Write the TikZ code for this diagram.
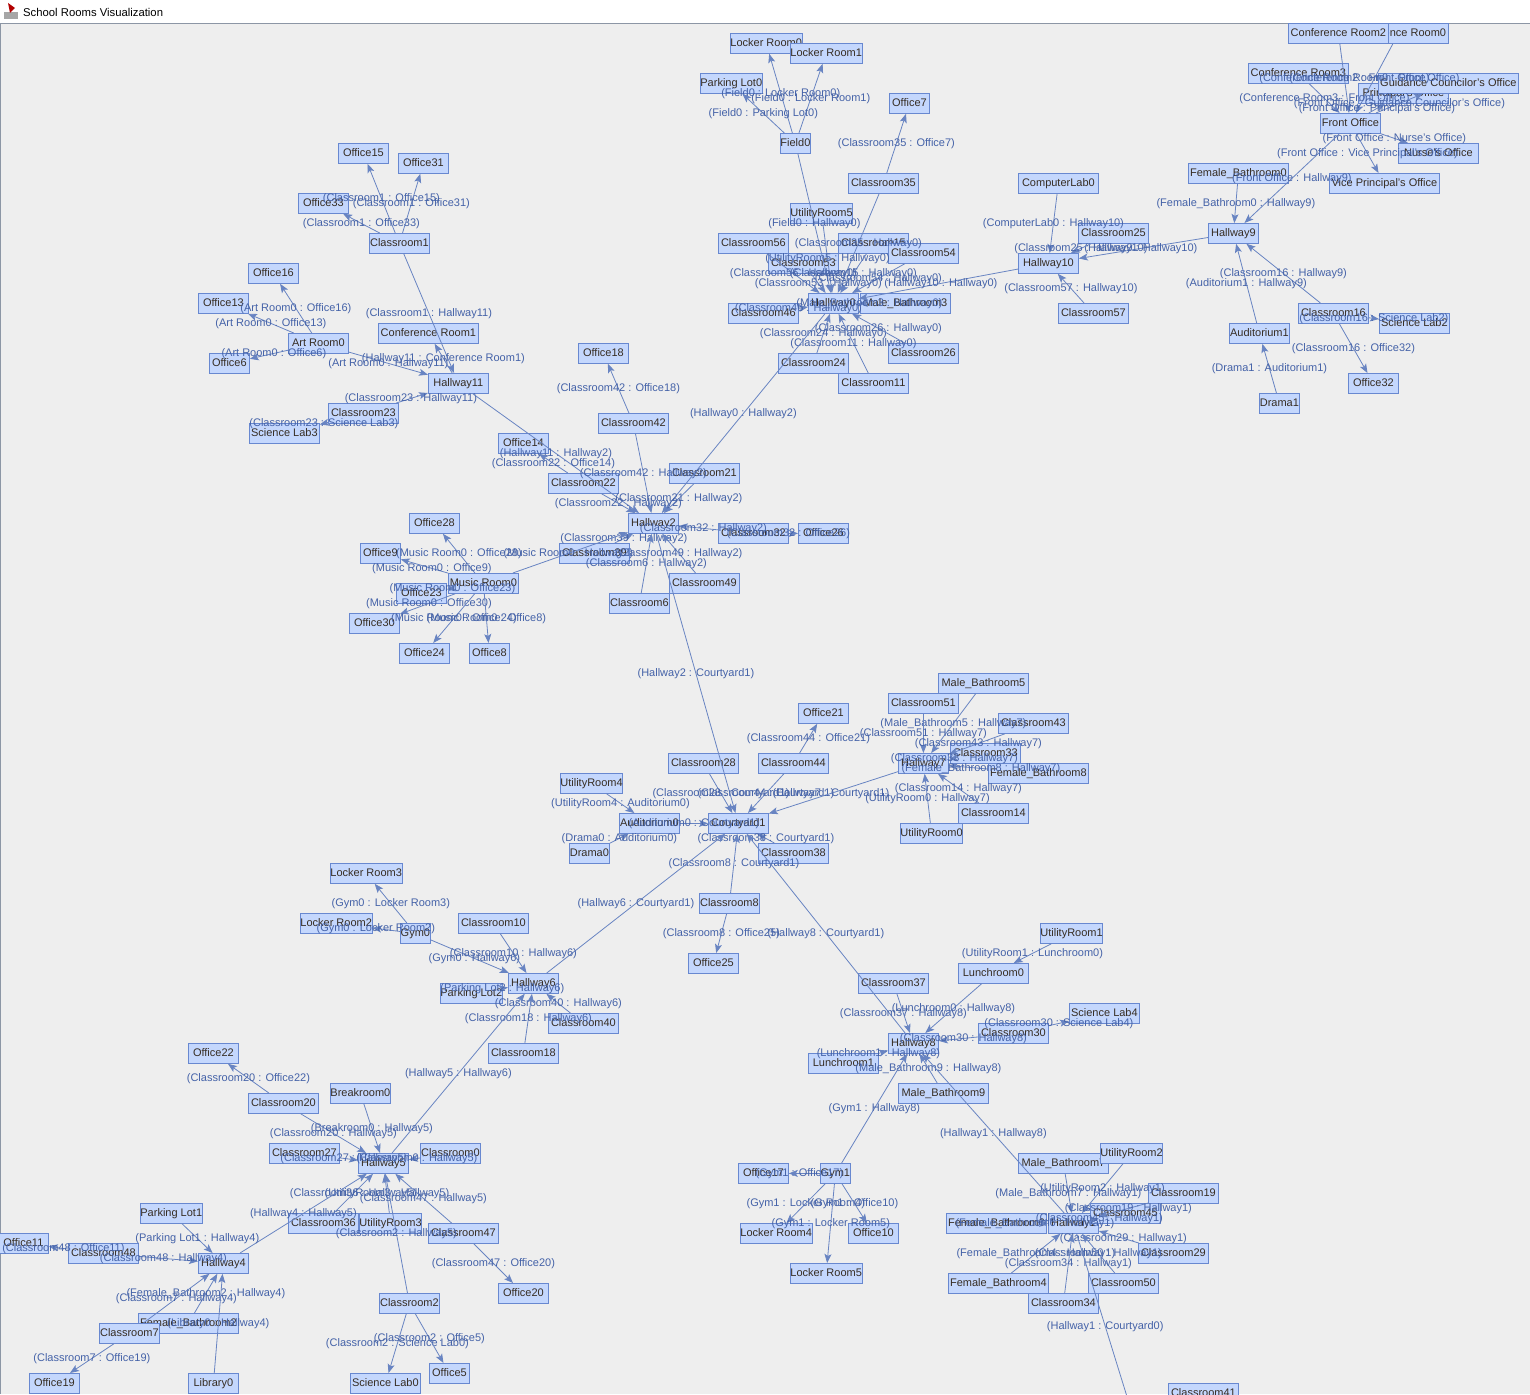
\documentclass[tikz,border=0pt]{standalone}
\usepackage{fontspec}
\setmainfont{Liberation Sans}
\usetikzlibrary{arrows.meta,calc}

\definecolor{canvas}{RGB}{238,238,238}
\definecolor{roomfill}{RGB}{196,215,253}
\definecolor{roomline}{RGB}{104,136,208}
\definecolor{roomtext}{RGB}{55,45,35}
\definecolor{linkcol}{RGB}{104,132,194}
\definecolor{lblcol}{RGB}{68,98,168}
\definecolor{framecol}{RGB}{140,150,165}

\begin{document}
\begin{tikzpicture}[x=1pt,y=-1pt,
		room/.style={draw=roomline,fill=roomfill,text=roomtext,anchor=north west,minimum height=20pt,inner xsep=0pt,inner ysep=0pt,text height=8pt,text depth=2pt,font=\fontsize{11}{13}\selectfont,line width=0.8pt},
		link/.style={draw=linkcol,line width=0.8pt,-{Stealth[length=9pt,width=7pt,inset=2pt]}},
		lbl/.style={text=lblcol,inner sep=0pt,text height=8pt,text depth=2pt,font=\fontsize{11}{13}\selectfont}]
		\useasboundingbox (0,0) rectangle (1530,1394);
		\clip (0,0) rectangle (1530,1394);

		% window
		\fill[white] (0,0) rectangle (1530,23);
		\fill[canvas] (0,23) rectangle (1530,1394);
		\draw[framecol] (0,23.5) -- (1530,23.5);
		\draw[framecol] (0.5,23.5) -- (0.5,1394);
		\fill[gray!70] (4,12) rectangle (18,19);
		\fill[red!70!black] (8,3) -- (15,8) -- (10,13) -- cycle;
		\node[anchor=west,inner sep=0pt,font=\fontsize{11.3}{13}\selectfont] (title) at (23,12) {School Rooms Visualization};

		% rooms, top left
		\node[room,minimum width=50]	(Office15)	at (338,143)	{Office15};
		\node[room,minimum width=50]	(Office31)	at (398,153)	{Office31};
		\node[room,minimum width=50]	(Office33)	at (298,193)	{Office33};
		\node[room,minimum width=60]	(Classroom1)	at (369,233)	{Classroom1};
		\node[room,minimum width=50]	(Office16)	at (248,263)	{Office16};
		\node[room,minimum width=50]	(Office13)	at (198,293)	{Office13};
		\node[room,minimum width=60]	(ArtRoom0)	at (288,333)	{Art Room0};
		\node[room,minimum width=40]	(Office6)	at (209,353)	{Office6};
		\node[room,minimum width=100]	(ConfRoom1)	at (378,323)	{Conference Room1};
		\node[room,minimum width=60]	(Hallway11)	at (428,373)	{Hallway11};
		\node[room,minimum width=70]	(Classroom23)	at (328,403)	{Classroom23};
		\node[room,minimum width=70]	(ScienceLab3)	at (249,423)	{Science Lab3};

		% rooms, top middle
		\node[room,minimum width=70]	(LockerRoom0)	at (730,33)	{Locker Room0};
		\node[room,minimum width=70]	(LockerRoom1)	at (790,43)	{Locker Room1};
		\node[room,minimum width=60]	(ParkingLot0)	at (700,73)	{Parking Lot0};
		\node[room,minimum width=30]	(Field0)	at (780,133)	{Field0};
		\node[room,minimum width=40]	(Office7)	at (889,93)	{Office7};
		\node[room,minimum width=70]	(Classroom35)	at (848,173)	{Classroom35};
		\node[room,minimum width=60]	(UtilityRoom5)	at (790,203)	{UtilityRoom5};
		\node[room,minimum width=70]	(Classroom56)	at (718,233)	{Classroom56};
		\node[room,minimum width=70]	(Classroom15)	at (838,233)	{Classroom15};
		\node[room,minimum width=70]	(Classroom54)	at (888,243)	{Classroom54};
		\node[room,minimum width=70]	(Classroom53)	at (768,253)	{Classroom53};
		\node[room,minimum width=50]	(Hallway0)	at (808,293)	{Hallway0};
		\node[room,minimum width=90]	(MaleBath3)	at (860,293)	{Male\_Bathroom3};
		\node[room,minimum width=70]	(Classroom46)	at (728,303)	{Classroom46};
		\node[room,minimum width=70]	(Classroom24)	at (778,353)	{Classroom24};
		\node[room,minimum width=70]	(Classroom26)	at (888,343)	{Classroom26};
		\node[room,minimum width=70]	(Classroom11)	at (838,373)	{Classroom11};

		% rooms, top right
		\node[room,minimum width=100]	(ConfRoom0)	at (1348,23)	{Conference Room0};
		\node[room,minimum width=100]	(ConfRoom2)	at (1288,23)	{Conference Room2};
		\node[room,minimum width=100]	(ConfRoom3)	at (1248,63)	{Conference Room3};
		\node[room,minimum width=90]	(PrincipalOff)	at (1358,83)	{Principal's Office};
		\node[room,minimum width=140]	(GuidanceOff)	at (1378,73)	{Guidance Councilor's Office};
		\node[room,minimum width=60]	(FrontOffice)	at (1320,113)	{Front Office};
		\node[room,minimum width=80]	(NurseOff)	at (1398,143)	{Nurse's Office};
		\node[room,minimum width=110]	(VicePrincipalOff)	at (1329,173)	{Vice Principal's Office};
		\node[room,minimum width=100]	(FemaleBath0)	at (1188,163)	{Female\_Bathroom0};
		\node[room,minimum width=50]	(Hallway9)	at (1208,223)	{Hallway9};
		\node[room,minimum width=80]	(ComputerLab0)	at (1018,173)	{ComputerLab0};
		\node[room,minimum width=70]	(Classroom25)	at (1078,223)	{Classroom25};
		\node[room,minimum width=60]	(Hallway10)	at (1018,253)	{Hallway10};
		\node[room,minimum width=70]	(Classroom57)	at (1058,303)	{Classroom57};
		\node[room,minimum width=70]	(Classroom16)	at (1298,303)	{Classroom16};
		\node[room,minimum width=70]	(ScienceLab2)	at (1379,313)	{Science Lab2};
		\node[room,minimum width=60]	(Auditorium1)	at (1229,323)	{Auditorium1};
		\node[room,minimum width=50]	(Office32)	at (1348,373)	{Office32};
		\node[room,minimum width=40]	(Drama1)	at (1259,393)	{Drama1};

		% rooms, round Hallway2
		\node[room,minimum width=50]	(Office18)	at (578,343)	{Office18};
		\node[room,minimum width=70]	(Classroom42)	at (598,413)	{Classroom42};
		\node[room,minimum width=50]	(Office14)	at (498,433)	{Office14};
		\node[room,minimum width=70]	(Classroom21)	at (669,463)	{Classroom21};
		\node[room,minimum width=70]	(Classroom22)	at (548,473)	{Classroom22};
		\node[room,minimum width=50]	(Hallway2)	at (628,513)	{Hallway2};
		\node[room,minimum width=70]	(Classroom32)	at (718,523)	{Classroom32};
		\node[room,minimum width=50]	(Office26)	at (798,523)	{Office26};
		\node[room,minimum width=50]	(Office28)	at (409,513)	{Office28};
		\node[room,minimum width=40]	(Office9)	at (360,543)	{Office9};
		\node[room,minimum width=70]	(Classroom39)	at (559,543)	{Classroom39};
		\node[room,minimum width=50]	(Office23)	at (396,583)	{Office23};
		\node[room,minimum width=70]	(MusicRoom0)	at (448,573)	{Music Room0};
		\node[room,minimum width=50]	(Office30)	at (349,613)	{Office30};
		\node[room,minimum width=50]	(Office24)	at (399,643)	{Office24};
		\node[room,minimum width=40]	(Office8)	at (469,643)	{Office8};
		\node[room,minimum width=70]	(Classroom49)	at (669,573)	{Classroom49};
		\node[room,minimum width=60]	(Classroom6)	at (609,593)	{Classroom6};

		% rooms, round Courtyard1
		\node[room,minimum width=90]	(MaleBath5)	at (938,673)	{Male\_Bathroom5};
		\node[room,minimum width=70]	(Classroom51)	at (888,693)	{Classroom51};
		\node[room,minimum width=70]	(Classroom43)	at (998,713)	{Classroom43};
		\node[room,minimum width=50]	(Office21)	at (798,703)	{Office21};
		\node[room,minimum width=70]	(Classroom28)	at (668,753)	{Classroom28};
		\node[room,minimum width=70]	(Classroom44)	at (758,753)	{Classroom44};
		\node[room,minimum width=50]	(Hallway7)	at (898,753)	{Hallway7};
		\node[room,minimum width=70]	(Classroom33)	at (950,743)	{Classroom33};
		\node[room,minimum width=100]	(FemaleBath8)	at (988,763)	{Female\_Bathroom8};
		\node[room,minimum width=60]	(UtilityRoom4)	at (560,773)	{UtilityRoom4};
		\node[room,minimum width=60]	(Auditorium0)	at (619,813)	{Auditorium0};
		\node[room,minimum width=60]	(Courtyard1)	at (708,813)	{Courtyard1};
		\node[room,minimum width=40]	(Drama0)	at (569,843)	{Drama0};
		\node[room,minimum width=70]	(Classroom38)	at (758,843)	{Classroom38};
		\node[room,minimum width=60]	(UtilityRoom0)	at (900,823)	{UtilityRoom0};
		\node[room,minimum width=70]	(Classroom14)	at (958,803)	{Classroom14};
		\node[room,minimum width=60]	(Classroom8)	at (699,893)	{Classroom8};
		\node[room,minimum width=50]	(Office25)	at (688,953)	{Office25};
		\node[room,minimum width=70]	(Classroom37)	at (858,973)	{Classroom37};
		\node[room,minimum width=60]	(UtilityRoom1)	at (1040,923)	{UtilityRoom1};
		\node[room,minimum width=70]	(Lunchroom0)	at (958,963)	{Lunchroom0};

		% rooms, bottom left
		\node[room,minimum width=70]	(LockerRoom3)	at (330,863)	{Locker Room3};
		\node[room,minimum width=70]	(LockerRoom2)	at (300,913)	{Locker Room2};
		\node[room,minimum width=30]	(Gym0)	at (400,923)	{Gym0};
		\node[room,minimum width=70]	(Classroom10)	at (458,913)	{Classroom10};
		\node[room,minimum width=50]	(Hallway6)	at (508,973)	{Hallway6};
		\node[room,minimum width=60]	(ParkingLot2)	at (440,983)	{Parking Lot2};
		\node[room,minimum width=70]	(Classroom40)	at (548,1013)	{Classroom40};
		\node[room,minimum width=70]	(Classroom18)	at (488,1043)	{Classroom18};
		\node[room,minimum width=50]	(Office22)	at (188,1043)	{Office22};
		\node[room,minimum width=60]	(Breakroom0)	at (330,1083)	{Breakroom0};
		\node[room,minimum width=70]	(Classroom20)	at (248,1093)	{Classroom20};
		\node[room,minimum width=70]	(Classroom27)	at (269,1143)	{Classroom27};
		\node[room,minimum width=50]	(Hallway5)	at (358,1153)	{Hallway5};
		\node[room,minimum width=60]	(Classroom0)	at (420,1143)	{Classroom0};
		\node[room,minimum width=60]	(ParkingLot1)	at (140,1203)	{Parking Lot1};
		\node[room,minimum width=70]	(Classroom36)	at (288,1213)	{Classroom36};
		\node[room,minimum width=60]	(UtilityRoom3)	at (359,1213)	{UtilityRoom3};
		\node[room,minimum width=70]	(Classroom47)	at (428,1223)	{Classroom47};
		\node[room,minimum width=50]	(Office11)	at (-2,1233)	{Office11};
		\node[room,minimum width=70]	(Classroom48)	at (68,1243)	{Classroom48};
		\node[room,minimum width=50]	(Hallway4)	at (198,1253)	{Hallway4};
		\node[room,minimum width=50]	(Office20)	at (498,1283)	{Office20};
		\node[room,minimum width=60]	(Classroom2)	at (379,1293)	{Classroom2};
		\node[room,minimum width=100]	(FemaleBath2)	at (138,1313)	{Female\_Bathroom2};
		\node[room,minimum width=60]	(Classroom7)	at (99,1323)	{Classroom7};
		\node[room,minimum width=40]	(Office5)	at (429,1363)	{Office5};
		\node[room,minimum width=50]	(Office19)	at (29,1373)	{Office19};
		\node[room,minimum width=50]	(Library0)	at (188,1373)	{Library0};
		\node[room,minimum width=70]	(ScienceLab0)	at (350,1373)	{Science Lab0};

		% rooms, bottom right
		\node[room,minimum width=70]	(ScienceLab4)	at (1069,1003)	{Science Lab4};
		\node[room,minimum width=70]	(Classroom30)	at (978,1023)	{Classroom30};
		\node[room,minimum width=50]	(Hallway8)	at (888,1033)	{Hallway8};
		\node[room,minimum width=70]	(Lunchroom1)	at (808,1053)	{Lunchroom1};
		\node[room,minimum width=90]	(MaleBath9)	at (898,1083)	{Male\_Bathroom9};
		\node[room,minimum width=50]	(Office17)	at (738,1163)	{Office17};
		\node[room,minimum width=30]	(Gym1)	at (820,1163)	{Gym1};
		\node[room,minimum width=70]	(LockerRoom4)	at (740,1223)	{Locker Room4};
		\node[room,minimum width=50]	(Office10)	at (848,1223)	{Office10};
		\node[room,minimum width=70]	(LockerRoom5)	at (790,1263)	{Locker Room5};
		\node[room,minimum width=90]	(MaleBath7)	at (1018,1153)	{Male\_Bathroom7};
		\node[room,minimum width=60]	(UtilityRoom2)	at (1100,1143)	{UtilityRoom2};
		\node[room,minimum width=70]	(Classroom19)	at (1148,1183)	{Classroom19};
		\node[room,minimum width=100]	(FemaleBath6)	at (946,1213)	{Female\_Bathroom6};
		\node[room,minimum width=50]	(Hallway1)	at (1048,1213)	{Hallway1};
		\node[room,minimum width=70]	(Classroom45)	at (1090,1203)	{Classroom45};
		\node[room,minimum width=70]	(Classroom29)	at (1138,1243)	{Classroom29};
		\node[room,minimum width=100]	(FemaleBath4)	at (948,1273)	{Female\_Bathroom4};
		\node[room,minimum width=70]	(Classroom50)	at (1088,1273)	{Classroom50};
		\node[room,minimum width=70]	(Classroom34)	at (1028,1293)	{Classroom34};
		\node[room,minimum width=70]	(Classroom41)	at (1168,1383)	{Classroom41};
		\coordinate (Courtyard0) at (1137,1429);

		% doors
		\draw[link] (Classroom1) -- (Office15);	\node[lbl] (e1) at ($(Classroom1)!.5!(Office15)$) {(Classroom1 : Office15)};
		\draw[link] (Classroom1) -- (Office31);	\node[lbl] (e2) at ($(Classroom1)!.5!(Office31)$) {(Classroom1 : Office31)};
		\draw[link] (Classroom1) -- (Office33);	\node[lbl] (e3) at ($(Classroom1)!.5!(Office33)$) {(Classroom1 : Office33)};
		\draw[link] (Classroom1) -- (Hallway11);	\node[lbl] (e4) at ($(Classroom1)!.5!(Hallway11)$) {(Classroom1 : Hallway11)};
		\draw[link] (ArtRoom0) -- (Office16);	\node[lbl] (e5) at ($(ArtRoom0)!.5!(Office16)$) {(Art Room0 : Office16)};
		\draw[link] (ArtRoom0) -- (Office13);	\node[lbl] (e6) at ($(ArtRoom0)!.5!(Office13)$) {(Art Room0 : Office13)};
		\draw[link] (ArtRoom0) -- (Office6);	\node[lbl] (e7) at ($(ArtRoom0)!.5!(Office6)$) {(Art Room0 : Office6)};
		\draw[link] (ArtRoom0) -- (Hallway11);	\node[lbl] (e8) at ($(ArtRoom0)!.5!(Hallway11)$) {(Art Room0 : Hallway11)};
		\draw[link] (Hallway11) -- (ConfRoom1);	\node[lbl] (e9) at ($(Hallway11)!.5!(ConfRoom1)$) {(Hallway11 : Conference Room1)};
		\draw[link] (Classroom23) -- (Hallway11);	\node[lbl] (e10) at ($(Classroom23)!.5!(Hallway11)$) {(Classroom23 : Hallway11)};
		\draw[link] (Classroom23) -- (ScienceLab3);	\node[lbl] (e11) at ($(Classroom23)!.5!(ScienceLab3)$) {(Classroom23 : Science Lab3)};
		\draw[link] (Hallway11) -- (Hallway2);	\node[lbl] (e12) at ($(Hallway11)!.5!(Hallway2)$) {(Hallway11 : Hallway2)};
		\draw[link] (Field0) -- (LockerRoom0);	\node[lbl] (e13) at ($(Field0)!.5!(LockerRoom0)$) {(Field0 : Locker Room0)};
		\draw[link] (Field0) -- (LockerRoom1);	\node[lbl] (e14) at ($(Field0)!.5!(LockerRoom1)$) {(Field0 : Locker Room1)};
		\draw[link] (Field0) -- (ParkingLot0);	\node[lbl] (e15) at ($(Field0)!.5!(ParkingLot0)$) {(Field0 : Parking Lot0)};
		\draw[link] (Field0) -- (Hallway0);	\node[lbl] (e16) at ($(Field0)!.5!(Hallway0)$) {(Field0 : Hallway0)};
		\draw[link] (Classroom35) -- (Office7);	\node[lbl] (e17) at ($(Classroom35)!.5!(Office7)$) {(Classroom35 : Office7)};
		\draw[link] (Classroom35) -- (Hallway0);	\node[lbl] (e18) at ($(Classroom35)!.5!(Hallway0)$) {(Classroom35 : Hallway0)};
		\draw[link] (UtilityRoom5) -- (Hallway0);	\node[lbl] (e19) at ($(UtilityRoom5)!.5!(Hallway0)$) {(UtilityRoom5 : Hallway0)};
		\draw[link] (Classroom56) -- (Hallway0);	\node[lbl] (e20) at ($(Classroom56)!.5!(Hallway0)$) {(Classroom56 : Hallway0)};
		\draw[link] (Classroom15) -- (Hallway0);	\node[lbl] (e21) at ($(Classroom15)!.5!(Hallway0)$) {(Classroom15 : Hallway0)};
		\draw[link] (Classroom54) -- (Hallway0);	\node[lbl] (e22) at ($(Classroom54)!.5!(Hallway0)$) {(Classroom54 : Hallway0)};
		\draw[link] (Classroom53) -- (Hallway0);	\node[lbl] (e23) at ($(Classroom53)!.5!(Hallway0)$) {(Classroom53 : Hallway0)};
		\draw[link] (Hallway10) -- (Hallway0);	\node[lbl] (e24) at ($(Hallway10)!.5!(Hallway0)$) {(Hallway10 : Hallway0)};
		\draw[link] (MaleBath3) -- (Hallway0);	\node[lbl] (e25) at ($(MaleBath3)!.5!(Hallway0)$) {(Male\_Bathroom3 : Hallway0)};
		\draw[link] (Classroom46) -- (Hallway0);	\node[lbl] (e26) at ($(Classroom46)!.5!(Hallway0)$) {(Classroom46 : Hallway0)};
		\draw[link] (Classroom24) -- (Hallway0);	\node[lbl] (e27) at ($(Classroom24)!.5!(Hallway0)$) {(Classroom24 : Hallway0)};
		\draw[link] (Classroom26) -- (Hallway0);	\node[lbl] (e28) at ($(Classroom26)!.5!(Hallway0)$) {(Classroom26 : Hallway0)};
		\draw[link] (Classroom11) -- (Hallway0);	\node[lbl] (e29) at ($(Classroom11)!.5!(Hallway0)$) {(Classroom11 : Hallway0)};
		\draw[link] (Hallway0) -- (Hallway2);	\node[lbl] (e30) at ($(Hallway0)!.5!(Hallway2)$) {(Hallway0 : Hallway2)};
		\draw[link] (Classroom42) -- (Office18);	\node[lbl] (e31) at ($(Classroom42)!.5!(Office18)$) {(Classroom42 : Office18)};
		\draw[link] (Classroom42) -- (Hallway2);	\node[lbl] (e32) at ($(Classroom42)!.5!(Hallway2)$) {(Classroom42 : Hallway2)};
		\draw[link] (ConfRoom2) -- (FrontOffice);	\node[lbl] (e33) at ($(ConfRoom2)!.5!(FrontOffice)$) {(Conference Room2 : Front Office)};
		\draw[link] (ConfRoom0) -- (FrontOffice);	\node[lbl] (e34) at ($(ConfRoom0)!.5!(FrontOffice)$) {(Conference Room0 : Front Office)};
		\draw[link] (ConfRoom3) -- (FrontOffice);	\node[lbl] (e35) at ($(ConfRoom3)!.5!(FrontOffice)$) {(Conference Room3 : Front Office)};
		\draw[link] (FrontOffice) -- (GuidanceOff);	\node[lbl] (e36) at ($(FrontOffice)!.5!(GuidanceOff)$) {(Front Office : Guidance Councilor's Office)};
		\draw[link] (FrontOffice) -- (PrincipalOff);	\node[lbl] (e37) at ($(FrontOffice)!.5!(PrincipalOff)$) {(Front Office : Principal's Office)};
		\draw[link] (FrontOffice) -- (NurseOff);	\node[lbl] (e38) at ($(FrontOffice)!.5!(NurseOff)$) {(Front Office : Nurse's Office)};
		\draw[link] (FrontOffice) -- (VicePrincipalOff);	\node[lbl] (e39) at ($(FrontOffice)!.5!(VicePrincipalOff)$) {(Front Office : Vice Principal's Office)};
		\draw[link] (FrontOffice) -- (Hallway9);	\node[lbl] (e40) at ($(FrontOffice)!.5!(Hallway9)$) {(Front Office : Hallway9)};
		\draw[link] (FemaleBath0) -- (Hallway9);	\node[lbl] (e41) at ($(FemaleBath0)!.5!(Hallway9)$) {(Female\_Bathroom0 : Hallway9)};
		\draw[link] (Hallway9) -- (Hallway10);	\node[lbl] (e42) at ($(Hallway9)!.5!(Hallway10)$) {(Hallway9 : Hallway10)};
		\draw[link] (ComputerLab0) -- (Hallway10);	\node[lbl] (e43) at ($(ComputerLab0)!.5!(Hallway10)$) {(ComputerLab0 : Hallway10)};
		\draw[link] (Classroom25) -- (Hallway10);	\node[lbl] (e44) at ($(Classroom25)!.5!(Hallway10)$) {(Classroom25 : Hallway10)};
		\draw[link] (Classroom57) -- (Hallway10);	\node[lbl] (e45) at ($(Classroom57)!.5!(Hallway10)$) {(Classroom57 : Hallway10)};
		\draw[link] (Classroom16) -- (Hallway9);	\node[lbl] (e46) at ($(Classroom16)!.5!(Hallway9)$) {(Classroom16 : Hallway9)};
		\draw[link] (Auditorium1) -- (Hallway9);	\node[lbl] (e47) at ($(Auditorium1)!.5!(Hallway9)$) {(Auditorium1 : Hallway9)};
		\draw[link] (Classroom16) -- (ScienceLab2);	\node[lbl] (e48) at ($(Classroom16)!.5!(ScienceLab2)$) {(Classroom16 : Science Lab2)};
		\draw[link] (Classroom16) -- (Office32);	\node[lbl] (e49) at ($(Classroom16)!.5!(Office32)$) {(Classroom16 : Office32)};
		\draw[link] (Drama1) -- (Auditorium1);	\node[lbl] (e50) at ($(Drama1)!.5!(Auditorium1)$) {(Drama1 : Auditorium1)};
		\draw[link] (Classroom22) -- (Office14);	\node[lbl] (e51) at ($(Classroom22)!.5!(Office14)$) {(Classroom22 : Office14)};
		\draw[link] (Classroom21) -- (Hallway2);	\node[lbl] (e52) at ($(Classroom21)!.5!(Hallway2)$) {(Classroom21 : Hallway2)};
		\draw[link] (Classroom22) -- (Hallway2);	\node[lbl] (e53) at ($(Classroom22)!.5!(Hallway2)$) {(Classroom22 : Hallway2)};
		\draw[link] (Classroom32) -- (Hallway2);	\node[lbl] (e54) at ($(Classroom32)!.5!(Hallway2)$) {(Classroom32 : Hallway2)};
		\draw[link] (Classroom32) -- (Office26);	\node[lbl] (e55) at ($(Classroom32)!.5!(Office26)$) {(Classroom32 : Office26)};
		\draw[link] (Classroom39) -- (Hallway2);	\node[lbl] (e56) at ($(Classroom39)!.5!(Hallway2)$) {(Classroom39 : Hallway2)};
		\draw[link] (MusicRoom0) -- (Hallway2);	\node[lbl] (e57) at ($(MusicRoom0)!.5!(Hallway2)$) {(Music Room0 : Hallway2)};
		\draw[link] (Classroom49) -- (Hallway2);	\node[lbl] (e58) at ($(Classroom49)!.5!(Hallway2)$) {(Classroom49 : Hallway2)};
		\draw[link] (Classroom6) -- (Hallway2);	\node[lbl] (e59) at ($(Classroom6)!.5!(Hallway2)$) {(Classroom6 : Hallway2)};
		\draw[link] (Hallway2) -- (Courtyard1);	\node[lbl] (e60) at ($(Hallway2)!.5!(Courtyard1)$) {(Hallway2 : Courtyard1)};
		\draw[link] (MusicRoom0) -- (Office28);	\node[lbl] (e61) at ($(MusicRoom0)!.5!(Office28)$) {(Music Room0 : Office28)};
		\draw[link] (MusicRoom0) -- (Office9);	\node[lbl] (e62) at ($(MusicRoom0)!.5!(Office9)$) {(Music Room0 : Office9)};
		\draw[link] (MusicRoom0) -- (Office23);	\node[lbl] (e63) at ($(MusicRoom0)!.5!(Office23)$) {(Music Room0 : Office23)};
		\draw[link] (MusicRoom0) -- (Office30);	\node[lbl] (e64) at ($(MusicRoom0)!.5!(Office30)$) {(Music Room0 : Office30)};
		\draw[link] (MusicRoom0) -- (Office24);	\node[lbl] (e65) at ($(MusicRoom0)!.5!(Office24)$) {(Music Room0 : Office24)};
		\draw[link] (MusicRoom0) -- (Office8);	\node[lbl] (e66) at ($(MusicRoom0)!.5!(Office8)$) {(Music Room0 : Office8)};
		\draw[link] (Classroom44) -- (Office21);	\node[lbl] (e67) at ($(Classroom44)!.5!(Office21)$) {(Classroom44 : Office21)};
		\draw[link] (Classroom28) -- (Courtyard1);	\node[lbl] (e68) at ($(Classroom28)!.5!(Courtyard1)$) {(Classroom28 : Courtyard1)};
		\draw[link] (Classroom44) -- (Courtyard1);	\node[lbl] (e69) at ($(Classroom44)!.5!(Courtyard1)$) {(Classroom44 : Courtyard1)};
		\draw[link] (Hallway7) -- (Courtyard1);	\node[lbl] (e70) at ($(Hallway7)!.5!(Courtyard1)$) {(Hallway7 : Courtyard1)};
		\draw[link] (UtilityRoom4) -- (Auditorium0);	\node[lbl] (e71) at ($(UtilityRoom4)!.5!(Auditorium0)$) {(UtilityRoom4 : Auditorium0)};
		\draw[link] (Auditorium0) -- (Courtyard1);	\node[lbl] (e72) at ($(Auditorium0)!.5!(Courtyard1)$) {(Auditorium0 : Courtyard1)};
		\draw[link] (Drama0) -- (Auditorium0);	\node[lbl] (e73) at ($(Drama0)!.5!(Auditorium0)$) {(Drama0 : Auditorium0)};
		\draw[link] (Classroom38) -- (Courtyard1);	\node[lbl] (e74) at ($(Classroom38)!.5!(Courtyard1)$) {(Classroom38 : Courtyard1)};
		\draw[link] (Classroom8) -- (Courtyard1);	\node[lbl] (e75) at ($(Classroom8)!.5!(Courtyard1)$) {(Classroom8 : Courtyard1)};
		\draw[link] (Classroom8) -- (Office25);	\node[lbl] (e76) at ($(Classroom8)!.5!(Office25)$) {(Classroom8 : Office25)};
		\draw[link] (Hallway6) -- (Courtyard1);	\node[lbl] (e77) at ($(Hallway6)!.5!(Courtyard1)$) {(Hallway6 : Courtyard1)};
		\draw[link] (Hallway8) -- (Courtyard1);	\node[lbl] (e78) at ($(Hallway8)!.5!(Courtyard1)$) {(Hallway8 : Courtyard1)};
		\draw[link] (MaleBath5) -- (Hallway7);	\node[lbl] (e79) at ($(MaleBath5)!.5!(Hallway7)$) {(Male\_Bathroom5 : Hallway7)};
		\draw[link] (Classroom51) -- (Hallway7);	\node[lbl] (e80) at ($(Classroom51)!.5!(Hallway7)$) {(Classroom51 : Hallway7)};
		\draw[link] (Classroom43) -- (Hallway7);	\node[lbl] (e81) at ($(Classroom43)!.5!(Hallway7)$) {(Classroom43 : Hallway7)};
		\draw[link] (Classroom33) -- (Hallway7);	\node[lbl] (e82) at ($(Classroom33)!.5!(Hallway7)$) {(Classroom33 : Hallway7)};
		\draw[link] (FemaleBath8) -- (Hallway7);	\node[lbl] (e83) at ($(FemaleBath8)!.5!(Hallway7)$) {(Female\_Bathroom8 : Hallway7)};
		\draw[link] (Classroom14) -- (Hallway7);	\node[lbl] (e84) at ($(Classroom14)!.5!(Hallway7)$) {(Classroom14 : Hallway7)};
		\draw[link] (UtilityRoom0) -- (Hallway7);	\node[lbl] (e85) at ($(UtilityRoom0)!.5!(Hallway7)$) {(UtilityRoom0 : Hallway7)};
		\draw[link] (UtilityRoom1) -- (Lunchroom0);	\node[lbl] (e86) at ($(UtilityRoom1)!.5!(Lunchroom0)$) {(UtilityRoom1 : Lunchroom0)};
		\draw[link] (Gym0) -- (LockerRoom3);	\node[lbl] (e87) at ($(Gym0)!.5!(LockerRoom3)$) {(Gym0 : Locker Room3)};
		\draw[link] (Gym0) -- (LockerRoom2);	\node[lbl] (e88) at ($(Gym0)!.5!(LockerRoom2)$) {(Gym0 : Locker Room2)};
		\draw[link] (Gym0) -- (Hallway6);	\node[lbl] (e89) at ($(Gym0)!.5!(Hallway6)$) {(Gym0 : Hallway6)};
		\draw[link] (Classroom10) -- (Hallway6);	\node[lbl] (e90) at ($(Classroom10)!.5!(Hallway6)$) {(Classroom10 : Hallway6)};
		\draw[link] (ParkingLot2) -- (Hallway6);	\node[lbl] (e91) at ($(ParkingLot2)!.5!(Hallway6)$) {(Parking Lot2 : Hallway6)};
		\draw[link] (Classroom40) -- (Hallway6);	\node[lbl] (e92) at ($(Classroom40)!.5!(Hallway6)$) {(Classroom40 : Hallway6)};
		\draw[link] (Classroom18) -- (Hallway6);	\node[lbl] (e93) at ($(Classroom18)!.5!(Hallway6)$) {(Classroom18 : Hallway6)};
		\draw[link] (Hallway5) -- (Hallway6);	\node[lbl] (e94) at ($(Hallway5)!.5!(Hallway6)$) {(Hallway5 : Hallway6)};
		\draw[link] (Classroom20) -- (Office22);	\node[lbl] (e95) at ($(Classroom20)!.5!(Office22)$) {(Classroom20 : Office22)};
		\draw[link] (Classroom20) -- (Hallway5);	\node[lbl] (e96) at ($(Classroom20)!.5!(Hallway5)$) {(Classroom20 : Hallway5)};
		\draw[link] (Breakroom0) -- (Hallway5);	\node[lbl] (e97) at ($(Breakroom0)!.5!(Hallway5)$) {(Breakroom0 : Hallway5)};
		\draw[link] (Classroom27) -- (Hallway5);	\node[lbl] (e98) at ($(Classroom27)!.5!(Hallway5)$) {(Classroom27 : Hallway5)};
		\draw[link] (Classroom0) -- (Hallway5);	\node[lbl] (e99) at ($(Classroom0)!.5!(Hallway5)$) {(Classroom0 : Hallway5)};
		\draw[link] (Classroom36) -- (Hallway5);	\node[lbl] (e100) at ($(Classroom36)!.5!(Hallway5)$) {(Classroom36 : Hallway5)};
		\draw[link] (UtilityRoom3) -- (Hallway5);	\node[lbl] (e101) at ($(UtilityRoom3)!.5!(Hallway5)$) {(UtilityRoom3 : Hallway5)};
		\draw[link] (Classroom47) -- (Hallway5);	\node[lbl] (e102) at ($(Classroom47)!.5!(Hallway5)$) {(Classroom47 : Hallway5)};
		\draw[link] (Classroom2) -- (Hallway5);	\node[lbl] (e103) at ($(Classroom2)!.5!(Hallway5)$) {(Classroom2 : Hallway5)};
		\draw[link] (Hallway4) -- (Hallway5);	\node[lbl] (e104) at ($(Hallway4)!.5!(Hallway5)$) {(Hallway4 : Hallway5)};
		\draw[link] (Classroom47) -- (Office20);	\node[lbl] (e105) at ($(Classroom47)!.5!(Office20)$) {(Classroom47 : Office20)};
		\draw[link] (ParkingLot1) -- (Hallway4);	\node[lbl] (e106) at ($(ParkingLot1)!.5!(Hallway4)$) {(Parking Lot1 : Hallway4)};
		\draw[link] (Classroom48) -- (Office11);	\node[lbl] (e107) at ($(Classroom48)!.5!(Office11)$) {(Classroom48 : Office11)};
		\draw[link] (Classroom48) -- (Hallway4);	\node[lbl] (e108) at ($(Classroom48)!.5!(Hallway4)$) {(Classroom48 : Hallway4)};
		\draw[link] (FemaleBath2) -- (Hallway4);	\node[lbl] (e109) at ($(FemaleBath2)!.5!(Hallway4)$) {(Female\_Bathroom2 : Hallway4)};
		\draw[link] (Classroom7) -- (Hallway4);	\node[lbl] (e110) at ($(Classroom7)!.5!(Hallway4)$) {(Classroom7 : Hallway4)};
		\draw[link] (Library0) -- (Hallway4);	\node[lbl] (e111) at ($(Library0)!.5!(Hallway4)$) {(Library0 : Hallway4)};
		\draw[link] (Classroom7) -- (Office19);	\node[lbl] (e112) at ($(Classroom7)!.5!(Office19)$) {(Classroom7 : Office19)};
		\draw[link] (Classroom2) -- (ScienceLab0);	\node[lbl] (e113) at ($(Classroom2)!.5!(ScienceLab0)$) {(Classroom2 : Science Lab0)};
		\draw[link] (Classroom2) -- (Office5);	\node[lbl] (e114) at ($(Classroom2)!.5!(Office5)$) {(Classroom2 : Office5)};
		\draw[link] (Classroom37) -- (Hallway8);	\node[lbl] (e115) at ($(Classroom37)!.5!(Hallway8)$) {(Classroom37 : Hallway8)};
		\draw[link] (Lunchroom0) -- (Hallway8);	\node[lbl] (e116) at ($(Lunchroom0)!.5!(Hallway8)$) {(Lunchroom0 : Hallway8)};
		\draw[link] (Classroom30) -- (Hallway8);	\node[lbl] (e117) at ($(Classroom30)!.5!(Hallway8)$) {(Classroom30 : Hallway8)};
		\draw[link] (Classroom30) -- (ScienceLab4);	\node[lbl] (e118) at ($(Classroom30)!.5!(ScienceLab4)$) {(Classroom30 : Science Lab4)};
		\draw[link] (Lunchroom1) -- (Hallway8);	\node[lbl] (e119) at ($(Lunchroom1)!.5!(Hallway8)$) {(Lunchroom1 : Hallway8)};
		\draw[link] (MaleBath9) -- (Hallway8);	\node[lbl] (e120) at ($(MaleBath9)!.5!(Hallway8)$) {(Male\_Bathroom9 : Hallway8)};
		\draw[link] (Gym1) -- (Hallway8);	\node[lbl] (e121) at ($(Gym1)!.5!(Hallway8)$) {(Gym1 : Hallway8)};
		\draw[link] (Hallway1) -- (Hallway8);	\node[lbl] (e122) at ($(Hallway1)!.5!(Hallway8)$) {(Hallway1 : Hallway8)};
		\draw[link] (Gym1) -- (Office17);	\node[lbl] (e123) at ($(Gym1)!.5!(Office17)$) {(Gym1 : Office17)};
		\draw[link] (Gym1) -- (LockerRoom4);	\node[lbl] (e124) at ($(Gym1)!.5!(LockerRoom4)$) {(Gym1 : Locker Room4)};
		\draw[link] (Gym1) -- (Office10);	\node[lbl] (e125) at ($(Gym1)!.5!(Office10)$) {(Gym1 : Office10)};
		\draw[link] (Gym1) -- (LockerRoom5);	\node[lbl] (e126) at ($(Gym1)!.5!(LockerRoom5)$) {(Gym1 : Locker Room5)};
		\draw[link] (MaleBath7) -- (Hallway1);	\node[lbl] (e127) at ($(MaleBath7)!.5!(Hallway1)$) {(Male\_Bathroom7 : Hallway1)};
		\draw[link] (UtilityRoom2) -- (Hallway1);	\node[lbl] (e128) at ($(UtilityRoom2)!.5!(Hallway1)$) {(UtilityRoom2 : Hallway1)};
		\draw[link] (Classroom19) -- (Hallway1);	\node[lbl] (e129) at ($(Classroom19)!.5!(Hallway1)$) {(Classroom19 : Hallway1)};
		\draw[link] (Classroom45) -- (Hallway1);	\node[lbl] (e130) at ($(Classroom45)!.5!(Hallway1)$) {(Classroom45 : Hallway1)};
		\draw[link] (FemaleBath6) -- (Hallway1);	\node[lbl] (e131) at ($(FemaleBath6)!.5!(Hallway1)$) {(Female\_Bathroom6 : Hallway1)};
		\draw[link] (Classroom29) -- (Hallway1);	\node[lbl] (e132) at ($(Classroom29)!.5!(Hallway1)$) {(Classroom29 : Hallway1)};
		\draw[link] (FemaleBath4) -- (Hallway1);	\node[lbl] (e133) at ($(FemaleBath4)!.5!(Hallway1)$) {(Female\_Bathroom4 : Hallway1)};
		\draw[link] (Classroom50) -- (Hallway1);	\node[lbl] (e134) at ($(Classroom50)!.5!(Hallway1)$) {(Classroom50 : Hallway1)};
		\draw[link] (Classroom34) -- (Hallway1);	\node[lbl] (e135) at ($(Classroom34)!.5!(Hallway1)$) {(Classroom34 : Hallway1)};
		\draw[link] (Hallway1) -- (Courtyard0);	\node[lbl] (e136) at ($(Hallway1)!.5!(Courtyard0)$) {(Hallway1 : Courtyard0)};
	\end{tikzpicture}
\end{document}
